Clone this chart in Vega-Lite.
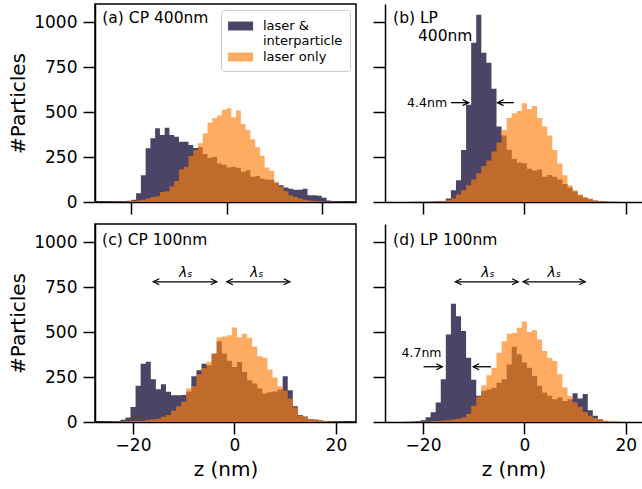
{
"$schema": "https://vega.github.io/schema/vega-lite/v6.json",
"padding": {"left": 7, "top": 3, "right": 0, "bottom": 0},
"background": "white",
"config": {
  "font": "DejaVu Sans",
  "view": {"stroke": "black", "strokeWidth": 1.5},
  "axis": {"domainColor": "black", "domainWidth": 1.5, "tickColor": "black", "tickWidth": 1.5, "tickSize": 12, "labelFont": "DejaVu Sans", "labelFontSize": 17, "labelColor": "black", "titleFont": "DejaVu Sans", "titleFontSize": 20, "titleFontWeight": "normal", "titleColor": "black", "grid": false},
  "axisY": {"labelPadding": 6, "titlePadding": 5, "format": "d"},
  "axisX": {"labelPadding": 3, "titlePadding": 6}
},
"datasets": {
"hist": [
{"p":"a","s":"i","z":-25.5,"n":0},{"p":"a","s":"i","z":-24.5,"n":1},{"p":"a","s":"i","z":-23.5,"n":1},{"p":"a","s":"i","z":-22.5,"n":2},{"p":"a","s":"i","z":-21.5,"n":4},{"p":"a","s":"i","z":-20.5,"n":7},{"p":"a","s":"i","z":-19.5,"n":12},{"p":"a","s":"i","z":-18.5,"n":48},{"p":"a","s":"i","z":-17.5,"n":149},{"p":"a","s":"i","z":-16.5,"n":298},{"p":"a","s":"i","z":-15.5,"n":354},{"p":"a","s":"i","z":-14.5,"n":410},{"p":"a","s":"i","z":-13.5,"n":372},{"p":"a","s":"i","z":-12.5,"n":413},{"p":"a","s":"i","z":-11.5,"n":372},{"p":"a","s":"i","z":-10.5,"n":363},{"p":"a","s":"i","z":-9.5,"n":335},{"p":"a","s":"i","z":-8.5,"n":335},{"p":"a","s":"i","z":-7.5,"n":317},{"p":"a","s":"i","z":-6.5,"n":300},{"p":"a","s":"i","z":-5.5,"n":304},{"p":"a","s":"i","z":-4.5,"n":266},{"p":"a","s":"i","z":-3.5,"n":246},{"p":"a","s":"i","z":-2.5,"n":251},{"p":"a","s":"i","z":-1.5,"n":214},{"p":"a","s":"i","z":-0.5,"n":207},{"p":"a","s":"i","z":0.5,"n":192},{"p":"a","s":"i","z":1.5,"n":196},{"p":"a","s":"i","z":2.5,"n":190},{"p":"a","s":"i","z":3.5,"n":168},{"p":"a","s":"i","z":4.5,"n":177},{"p":"a","s":"i","z":5.5,"n":140},{"p":"a","s":"i","z":6.5,"n":145},{"p":"a","s":"i","z":7.5,"n":130},{"p":"a","s":"i","z":8.5,"n":125},{"p":"a","s":"i","z":9.5,"n":123},{"p":"a","s":"i","z":10.5,"n":106},{"p":"a","s":"i","z":11.5,"n":93},{"p":"a","s":"i","z":12.5,"n":80},{"p":"a","s":"i","z":13.5,"n":74},{"p":"a","s":"i","z":14.5,"n":68},{"p":"a","s":"i","z":15.5,"n":68},{"p":"a","s":"i","z":16.5,"n":74},{"p":"a","s":"i","z":17.5,"n":37},{"p":"a","s":"i","z":18.5,"n":37},{"p":"a","s":"i","z":19.5,"n":35},{"p":"a","s":"i","z":20.5,"n":24},{"p":"a","s":"i","z":21.5,"n":9},{"p":"a","s":"i","z":22.5,"n":6},{"p":"a","s":"i","z":23.5,"n":3},{"p":"a","s":"i","z":24.5,"n":1},{"p":"a","s":"i","z":25.5,"n":0},
{"p":"a","s":"o","z":-24.5,"n":0},{"p":"a","s":"o","z":-23.5,"n":1},{"p":"a","s":"o","z":-22.5,"n":1},{"p":"a","s":"o","z":-21.5,"n":2},{"p":"a","s":"o","z":-20.5,"n":3},{"p":"a","s":"o","z":-19.5,"n":5},{"p":"a","s":"o","z":-18.5,"n":9},{"p":"a","s":"o","z":-17.5,"n":13},{"p":"a","s":"o","z":-16.5,"n":19},{"p":"a","s":"o","z":-15.5,"n":28},{"p":"a","s":"o","z":-14.5,"n":32},{"p":"a","s":"o","z":-13.5,"n":56},{"p":"a","s":"o","z":-12.5,"n":60},{"p":"a","s":"o","z":-11.5,"n":88},{"p":"a","s":"o","z":-10.5,"n":117},{"p":"a","s":"o","z":-9.5,"n":181},{"p":"a","s":"o","z":-8.5,"n":196},{"p":"a","s":"o","z":-7.5,"n":255},{"p":"a","s":"o","z":-6.5,"n":289},{"p":"a","s":"o","z":-5.5,"n":326},{"p":"a","s":"o","z":-4.5,"n":382},{"p":"a","s":"o","z":-3.5,"n":441},{"p":"a","s":"o","z":-2.5,"n":466},{"p":"a","s":"o","z":-1.5,"n":480},{"p":"a","s":"o","z":-0.5,"n":512},{"p":"a","s":"o","z":0.5,"n":521},{"p":"a","s":"o","z":1.5,"n":471},{"p":"a","s":"o","z":2.5,"n":508},{"p":"a","s":"o","z":3.5,"n":434},{"p":"a","s":"o","z":4.5,"n":400},{"p":"a","s":"o","z":5.5,"n":348},{"p":"a","s":"o","z":6.5,"n":304},{"p":"a","s":"o","z":7.5,"n":257},{"p":"a","s":"o","z":8.5,"n":192},{"p":"a","s":"o","z":9.5,"n":173},{"p":"a","s":"o","z":10.5,"n":112},{"p":"a","s":"o","z":11.5,"n":85},{"p":"a","s":"o","z":12.5,"n":60},{"p":"a","s":"o","z":13.5,"n":38},{"p":"a","s":"o","z":14.5,"n":28},{"p":"a","s":"o","z":15.5,"n":20},{"p":"a","s":"o","z":16.5,"n":12},{"p":"a","s":"o","z":17.5,"n":8},{"p":"a","s":"o","z":18.5,"n":5},{"p":"a","s":"o","z":19.5,"n":3},{"p":"a","s":"o","z":20.5,"n":2},{"p":"a","s":"o","z":21.5,"n":1},{"p":"a","s":"o","z":22.5,"n":0},
{"p":"b","s":"i","z":-23,"n":0},{"p":"b","s":"i","z":-22,"n":1},{"p":"b","s":"i","z":-21,"n":1},{"p":"b","s":"i","z":-20,"n":2},{"p":"b","s":"i","z":-19,"n":2},{"p":"b","s":"i","z":-18,"n":3},{"p":"b","s":"i","z":-17,"n":4},{"p":"b","s":"i","z":-16,"n":6},{"p":"b","s":"i","z":-15,"n":19},{"p":"b","s":"i","z":-14,"n":65},{"p":"b","s":"i","z":-13,"n":121},{"p":"b","s":"i","z":-12,"n":289},{"p":"b","s":"i","z":-11,"n":540},{"p":"b","s":"i","z":-10,"n":885},{"p":"b","s":"i","z":-9,"n":1040},{"p":"b","s":"i","z":-8,"n":829},{"p":"b","s":"i","z":-7,"n":773},{"p":"b","s":"i","z":-6,"n":629},{"p":"b","s":"i","z":-5,"n":419},{"p":"b","s":"i","z":-4,"n":370},{"p":"b","s":"i","z":-3,"n":290},{"p":"b","s":"i","z":-2,"n":240},{"p":"b","s":"i","z":-1,"n":220},{"p":"b","s":"i","z":0,"n":215},{"p":"b","s":"i","z":1,"n":185},{"p":"b","s":"i","z":2,"n":175},{"p":"b","s":"i","z":3,"n":180},{"p":"b","s":"i","z":4,"n":140},{"p":"b","s":"i","z":5,"n":150},{"p":"b","s":"i","z":6,"n":140},{"p":"b","s":"i","z":7,"n":125},{"p":"b","s":"i","z":8,"n":100},{"p":"b","s":"i","z":9,"n":80},{"p":"b","s":"i","z":10,"n":58},{"p":"b","s":"i","z":11,"n":38},{"p":"b","s":"i","z":12,"n":24},{"p":"b","s":"i","z":13,"n":15},{"p":"b","s":"i","z":14,"n":9},{"p":"b","s":"i","z":15,"n":5},{"p":"b","s":"i","z":16,"n":3},{"p":"b","s":"i","z":17,"n":2},{"p":"b","s":"i","z":18,"n":1},{"p":"b","s":"i","z":19,"n":0},
{"p":"b","s":"o","z":-21,"n":0},{"p":"b","s":"o","z":-20,"n":1},{"p":"b","s":"o","z":-19,"n":1},{"p":"b","s":"o","z":-18,"n":2},{"p":"b","s":"o","z":-17,"n":2},{"p":"b","s":"o","z":-16,"n":5},{"p":"b","s":"o","z":-15,"n":10},{"p":"b","s":"o","z":-14,"n":20},{"p":"b","s":"o","z":-13,"n":41},{"p":"b","s":"o","z":-12,"n":65},{"p":"b","s":"o","z":-11,"n":93},{"p":"b","s":"o","z":-10,"n":125},{"p":"b","s":"o","z":-9,"n":160},{"p":"b","s":"o","z":-8,"n":200},{"p":"b","s":"o","z":-7,"n":230},{"p":"b","s":"o","z":-6,"n":280},{"p":"b","s":"o","z":-5,"n":330},{"p":"b","s":"o","z":-4,"n":400},{"p":"b","s":"o","z":-3,"n":466},{"p":"b","s":"o","z":-2,"n":493},{"p":"b","s":"o","z":-1,"n":506},{"p":"b","s":"o","z":0,"n":549},{"p":"b","s":"o","z":1,"n":516},{"p":"b","s":"o","z":2,"n":534},{"p":"b","s":"o","z":3,"n":466},{"p":"b","s":"o","z":4,"n":419},{"p":"b","s":"o","z":5,"n":369},{"p":"b","s":"o","z":6,"n":289},{"p":"b","s":"o","z":7,"n":214},{"p":"b","s":"o","z":8,"n":149},{"p":"b","s":"o","z":9,"n":93},{"p":"b","s":"o","z":10,"n":65},{"p":"b","s":"o","z":11,"n":41},{"p":"b","s":"o","z":12,"n":28},{"p":"b","s":"o","z":13,"n":19},{"p":"b","s":"o","z":14,"n":9},{"p":"b","s":"o","z":15,"n":4},{"p":"b","s":"o","z":16,"n":2},{"p":"b","s":"o","z":17,"n":1},{"p":"b","s":"o","z":18,"n":0},
{"p":"c","s":"i","z":-25,"n":0},{"p":"c","s":"i","z":-24,"n":2},{"p":"c","s":"i","z":-23,"n":6},{"p":"c","s":"i","z":-22,"n":13},{"p":"c","s":"i","z":-21,"n":25},{"p":"c","s":"i","z":-20,"n":84},{"p":"c","s":"i","z":-19,"n":201},{"p":"c","s":"i","z":-18,"n":324},{"p":"c","s":"i","z":-17,"n":335},{"p":"c","s":"i","z":-16,"n":237},{"p":"c","s":"i","z":-15,"n":182},{"p":"c","s":"i","z":-14,"n":210},{"p":"c","s":"i","z":-13,"n":168},{"p":"c","s":"i","z":-12,"n":149},{"p":"c","s":"i","z":-11,"n":149},{"p":"c","s":"i","z":-10,"n":150},{"p":"c","s":"i","z":-9,"n":170},{"p":"c","s":"i","z":-8,"n":254},{"p":"c","s":"i","z":-7,"n":287},{"p":"c","s":"i","z":-6,"n":324},{"p":"c","s":"i","z":-5,"n":315},{"p":"c","s":"i","z":-4,"n":379},{"p":"c","s":"i","z":-3,"n":449},{"p":"c","s":"i","z":-2,"n":380},{"p":"c","s":"i","z":-1,"n":340},{"p":"c","s":"i","z":0,"n":306},{"p":"c","s":"i","z":1,"n":333},{"p":"c","s":"i","z":2,"n":278},{"p":"c","s":"i","z":3,"n":232},{"p":"c","s":"i","z":4,"n":214},{"p":"c","s":"i","z":5,"n":186},{"p":"c","s":"i","z":6,"n":158},{"p":"c","s":"i","z":7,"n":165},{"p":"c","s":"i","z":8,"n":170},{"p":"c","s":"i","z":9,"n":180},{"p":"c","s":"i","z":10,"n":254},{"p":"c","s":"i","z":11,"n":177},{"p":"c","s":"i","z":12,"n":88},{"p":"c","s":"i","z":13,"n":39},{"p":"c","s":"i","z":14,"n":30},{"p":"c","s":"i","z":15,"n":17},{"p":"c","s":"i","z":16,"n":14},{"p":"c","s":"i","z":17,"n":10},{"p":"c","s":"i","z":18,"n":6},{"p":"c","s":"i","z":19,"n":4},{"p":"c","s":"i","z":20,"n":2},{"p":"c","s":"i","z":21,"n":1},{"p":"c","s":"i","z":22,"n":0},
{"p":"c","s":"o","z":-25,"n":0},{"p":"c","s":"o","z":-24,"n":1},{"p":"c","s":"o","z":-23,"n":2},{"p":"c","s":"o","z":-22,"n":3},{"p":"c","s":"o","z":-21,"n":4},{"p":"c","s":"o","z":-20,"n":5},{"p":"c","s":"o","z":-19,"n":6},{"p":"c","s":"o","z":-18,"n":7},{"p":"c","s":"o","z":-17,"n":11},{"p":"c","s":"o","z":-16,"n":15},{"p":"c","s":"o","z":-15,"n":18},{"p":"c","s":"o","z":-14,"n":29},{"p":"c","s":"o","z":-13,"n":39},{"p":"c","s":"o","z":-12,"n":63},{"p":"c","s":"o","z":-11,"n":88},{"p":"c","s":"o","z":-10,"n":112},{"p":"c","s":"o","z":-9,"n":186},{"p":"c","s":"o","z":-8,"n":200},{"p":"c","s":"o","z":-7,"n":265},{"p":"c","s":"o","z":-6,"n":300},{"p":"c","s":"o","z":-5,"n":335},{"p":"c","s":"o","z":-4,"n":380},{"p":"c","s":"o","z":-3,"n":470},{"p":"c","s":"o","z":-2,"n":475},{"p":"c","s":"o","z":-1,"n":482},{"p":"c","s":"o","z":0,"n":525},{"p":"c","s":"o","z":1,"n":471},{"p":"c","s":"o","z":2,"n":490},{"p":"c","s":"o","z":3,"n":468},{"p":"c","s":"o","z":4,"n":420},{"p":"c","s":"o","z":5,"n":365},{"p":"c","s":"o","z":6,"n":357},{"p":"c","s":"o","z":7,"n":291},{"p":"c","s":"o","z":8,"n":247},{"p":"c","s":"o","z":9,"n":199},{"p":"c","s":"o","z":10,"n":175},{"p":"c","s":"o","z":11,"n":130},{"p":"c","s":"o","z":12,"n":80},{"p":"c","s":"o","z":13,"n":36},{"p":"c","s":"o","z":14,"n":28},{"p":"c","s":"o","z":15,"n":16},{"p":"c","s":"o","z":16,"n":12},{"p":"c","s":"o","z":17,"n":8},{"p":"c","s":"o","z":18,"n":5},{"p":"c","s":"o","z":19,"n":3},{"p":"c","s":"o","z":20,"n":2},{"p":"c","s":"o","z":21,"n":1},{"p":"c","s":"o","z":22,"n":0},
{"p":"d","s":"i","z":-24,"n":0},{"p":"d","s":"i","z":-23,"n":2},{"p":"d","s":"i","z":-22,"n":3},{"p":"d","s":"i","z":-21,"n":5},{"p":"d","s":"i","z":-20,"n":10},{"p":"d","s":"i","z":-19,"n":26},{"p":"d","s":"i","z":-18,"n":54},{"p":"d","s":"i","z":-17,"n":109},{"p":"d","s":"i","z":-16,"n":238},{"p":"d","s":"i","z":-15,"n":486},{"p":"d","s":"i","z":-14,"n":657},{"p":"d","s":"i","z":-13,"n":588},{"p":"d","s":"i","z":-12,"n":505},{"p":"d","s":"i","z":-11,"n":357},{"p":"d","s":"i","z":-10,"n":235},{"p":"d","s":"i","z":-9,"n":146},{"p":"d","s":"i","z":-8,"n":173},{"p":"d","s":"i","z":-7,"n":180},{"p":"d","s":"i","z":-6,"n":190},{"p":"d","s":"i","z":-5,"n":218},{"p":"d","s":"i","z":-4,"n":237},{"p":"d","s":"i","z":-3,"n":320},{"p":"d","s":"i","z":-2,"n":418},{"p":"d","s":"i","z":-1,"n":376},{"p":"d","s":"i","z":0,"n":330},{"p":"d","s":"i","z":1,"n":302},{"p":"d","s":"i","z":2,"n":256},{"p":"d","s":"i","z":3,"n":201},{"p":"d","s":"i","z":4,"n":164},{"p":"d","s":"i","z":5,"n":146},{"p":"d","s":"i","z":6,"n":127},{"p":"d","s":"i","z":7,"n":136},{"p":"d","s":"i","z":8,"n":117},{"p":"d","s":"i","z":9,"n":127},{"p":"d","s":"i","z":10,"n":160},{"p":"d","s":"i","z":11,"n":130},{"p":"d","s":"i","z":12,"n":155},{"p":"d","s":"i","z":13,"n":65},{"p":"d","s":"i","z":14,"n":35},{"p":"d","s":"i","z":15,"n":15},{"p":"d","s":"i","z":16,"n":6},{"p":"d","s":"i","z":17,"n":3},{"p":"d","s":"i","z":18,"n":1},{"p":"d","s":"i","z":19,"n":0},
{"p":"d","s":"o","z":-23,"n":0},{"p":"d","s":"o","z":-22,"n":1},{"p":"d","s":"o","z":-21,"n":2},{"p":"d","s":"o","z":-20,"n":2},{"p":"d","s":"o","z":-19,"n":3},{"p":"d","s":"o","z":-18,"n":4},{"p":"d","s":"o","z":-17,"n":6},{"p":"d","s":"o","z":-16,"n":8},{"p":"d","s":"o","z":-15,"n":10},{"p":"d","s":"o","z":-14,"n":14},{"p":"d","s":"o","z":-13,"n":18},{"p":"d","s":"o","z":-12,"n":25},{"p":"d","s":"o","z":-11,"n":45},{"p":"d","s":"o","z":-10,"n":90},{"p":"d","s":"o","z":-9,"n":140},{"p":"d","s":"o","z":-8,"n":204},{"p":"d","s":"o","z":-7,"n":260},{"p":"d","s":"o","z":-6,"n":302},{"p":"d","s":"o","z":-5,"n":385},{"p":"d","s":"o","z":-4,"n":449},{"p":"d","s":"o","z":-3,"n":490},{"p":"d","s":"o","z":-2,"n":495},{"p":"d","s":"o","z":-1,"n":523},{"p":"d","s":"o","z":0,"n":558},{"p":"d","s":"o","z":1,"n":500},{"p":"d","s":"o","z":2,"n":510},{"p":"d","s":"o","z":3,"n":459},{"p":"d","s":"o","z":4,"n":394},{"p":"d","s":"o","z":5,"n":357},{"p":"d","s":"o","z":6,"n":339},{"p":"d","s":"o","z":7,"n":265},{"p":"d","s":"o","z":8,"n":191},{"p":"d","s":"o","z":9,"n":145},{"p":"d","s":"o","z":10,"n":110},{"p":"d","s":"o","z":11,"n":85},{"p":"d","s":"o","z":12,"n":55},{"p":"d","s":"o","z":13,"n":35},{"p":"d","s":"o","z":14,"n":22},{"p":"d","s":"o","z":15,"n":14},{"p":"d","s":"o","z":16,"n":9},{"p":"d","s":"o","z":17,"n":5},{"p":"d","s":"o","z":18,"n":3},{"p":"d","s":"o","z":19,"n":2},{"p":"d","s":"o","z":20,"n":1},{"p":"d","s":"o","z":21,"n":0}
],
"lab": [
{"p":"a","x":-26.1,"y":1024,"t":"(a) CP 400nm"},
{"p":"b","x":-25.9,"y":1024,"t":"(b) LP"},
{"p":"b","x":-21.0,"y":922,"t":"400nm"},
{"p":"c","x":-26.1,"y":1011,"t":"(c) CP 100nm"},
{"p":"d","x":-25.9,"y":1011,"t":"(d) LP 100nm"}
],
"note": [
{"p":"b","x":-19.2,"y":552,"t":"4.4nm"},
{"p":"d","x":-20.3,"y":386,"t":"4.7nm"}
],
"lam": [
{"p":"c","x":-9.6,"y":829,"t":"λₛ"},
{"p":"c","x":4.4,"y":829,"t":"λₛ"},
{"p":"d","x":-7.2,"y":829,"t":"λₛ"},
{"p":"d","x":5.9,"y":829,"t":"λₛ"}
],
"arr": [
{"p":"b","x1":-14.5,"x2":-11.0,"y":552},
{"p":"b","x1":-5.3,"x2":-2.1,"y":552},
{"p":"d","x1":-19.9,"x2":-16.2,"y":307},
{"p":"d","x1":-10.1,"x2":-6.6,"y":307},
{"p":"c","x1":-16.0,"x2":-3.5,"y":779},
{"p":"c","x1":-1.5,"x2":10.9,"y":779},
{"p":"d","x1":-13.6,"x2":-1.25,"y":779},
{"p":"d","x1":-0.25,"x2":12.0,"y":779}
],
"head": [
{"p":"b","x":-11.0,"y":552,"d":"r"},
{"p":"b","x":-5.3,"y":552,"d":"l"},
{"p":"d","x":-16.2,"y":307,"d":"r"},
{"p":"d","x":-10.1,"y":307,"d":"l"},
{"p":"c","x":-16.0,"y":779,"d":"l"},
{"p":"c","x":-3.5,"y":779,"d":"r"},
{"p":"c","x":-1.5,"y":779,"d":"l"},
{"p":"c","x":10.9,"y":779,"d":"r"},
{"p":"d","x":-13.6,"y":779,"d":"l"},
{"p":"d","x":-1.25,"y":779,"d":"r"},
{"p":"d","x":-0.25,"y":779,"d":"l"},
{"p":"d","x":12.0,"y":779,"d":"r"}
]
},
"vconcat": [
{"hconcat": [
 {"width": 261, "height": 198,
  "layer": [
   {"data": {"name": "hist"}, "transform": [{"filter": "datum.p == 'a'"}],
    "mark": {"type": "area", "interpolate": "step"},
    "encoding": {
     "x": {"field": "z", "type": "quantitative", "scale": {"domain": [-27.63, 27.18], "nice": false, "zero": false}, "axis": {"values": [-20, 0, 20], "labels": false, "title": null}},
     "y": {"field": "n", "type": "quantitative", "stack": null, "scale": {"domain": [0, 1100], "nice": false}, "axis": {"values": [0, 250, 500, 750, 1000], "title": "#Particles"}},
     "color": {"field": "s", "type": "nominal", "scale": {"domain": ["i", "o"], "range": ["#4b4466", "#ff7f0e"]},
       "legend": {"title": null, "orient": "top-right", "offset": 6, "padding": 7, "fillColor": "white", "strokeColor": "#cccccc", "cornerRadius": 3, "symbolType": "M-1,-0.5H1.8V0.5H-1Z", "symbolSize": 320, "symbolStrokeWidth": 0, "labelFontSize": 13, "labelFont": "DejaVu Sans", "labelColor": "black", "labelOffset": 17, "rowPadding": -4, "labelExpr": "datum.value == 'i' ? ['laser &', 'interparticle'] : 'laser only'"}},
     "opacity": {"field": "s", "type": "nominal", "scale": {"domain": ["i", "o"], "range": [1, 0.65]},
       "legend": {"title": null, "orient": "top-right", "offset": 6, "padding": 7, "fillColor": "white", "strokeColor": "#cccccc", "cornerRadius": 3, "symbolType": "M-1,-0.5H1.8V0.5H-1Z", "symbolSize": 320, "symbolStrokeWidth": 0, "labelFontSize": 13, "labelFont": "DejaVu Sans", "labelColor": "black", "labelOffset": 17, "rowPadding": -4, "labelExpr": "datum.value == 'i' ? ['laser &', 'interparticle'] : 'laser only'"}}
    }},
   {"data": {"name": "lab"}, "transform": [{"filter": "datum.p == 'a'"}],
    "mark": {"type": "text", "align": "left", "baseline": "middle", "fontSize": 15.5, "color": "black"},
    "encoding": {"x": {"field": "x", "type": "quantitative"}, "y": {"field": "y", "type": "quantitative"}, "text": {"field": "t"}}}
  ]},
 {"width": 257, "height": 198, "view": {"stroke": null},
  "layer": [
   {"data": {"name": "hist"}, "transform": [{"filter": "datum.p == 'b'"}],
    "mark": {"type": "area", "interpolate": "step"},
    "encoding": {
     "x": {"field": "z", "type": "quantitative", "scale": {"domain": [-27.5, 23.2], "nice": false, "zero": false}, "axis": {"values": [-20, 0, 20], "labels": false, "title": null}},
     "y": {"field": "n", "type": "quantitative", "stack": null, "scale": {"domain": [0, 1100], "nice": false}, "axis": {"values": [0, 250, 500, 750, 1000], "labels": false, "title": null}},
     "color": {"field": "s", "type": "nominal", "scale": {"domain": ["i", "o"], "range": ["#4b4466", "#ff7f0e"]}, "legend": null},
     "opacity": {"field": "s", "type": "nominal", "scale": {"domain": ["i", "o"], "range": [1, 0.65]}, "legend": null}
    }},
   {"mark": {"type": "rule", "color": "black", "strokeWidth": 1.5}, "encoding": {"y": {"datum": 1100}}},
   {"data": {"name": "lab"}, "transform": [{"filter": "datum.p == 'b'"}],
    "mark": {"type": "text", "align": "left", "baseline": "middle", "fontSize": 15.5, "color": "black"},
    "encoding": {"x": {"field": "x", "type": "quantitative"}, "y": {"field": "y", "type": "quantitative"}, "text": {"field": "t"}}},
   {"data": {"name": "note"}, "transform": [{"filter": "datum.p == 'b'"}],
    "mark": {"type": "text", "align": "center", "baseline": "middle", "fontSize": 12.5, "color": "black"},
    "encoding": {"x": {"field": "x", "type": "quantitative"}, "y": {"field": "y", "type": "quantitative"}, "text": {"field": "t"}}},
   {"data": {"name": "arr"}, "transform": [{"filter": "datum.p == 'b'"}],
    "mark": {"type": "rule", "color": "black", "strokeWidth": 1.3},
    "encoding": {"x": {"field": "x1", "type": "quantitative"}, "x2": {"field": "x2"}, "y": {"field": "y", "type": "quantitative"}}},
   {"data": {"name": "head"}, "transform": [{"filter": "datum.p == 'b'"}],
    "mark": {"type": "point", "filled": false, "color": "black", "strokeWidth": 1.3, "size": 36, "opacity": 1},
    "encoding": {"x": {"field": "x", "type": "quantitative"}, "y": {"field": "y", "type": "quantitative"},
     "shape": {"field": "d", "type": "nominal", "scale": {"domain": ["r", "l"], "range": ["M-2,-1L0,0L-2,1", "M2,-1L0,0L2,1"]}, "legend": null}}}
  ]}
], "spacing": 15, "resolve": {"scale": {"color": "independent", "opacity": "independent"}, "legend": {"color": "independent", "opacity": "independent"}}},
{"hconcat": [
 {"width": 261, "height": 198,
  "layer": [
   {"data": {"name": "hist"}, "transform": [{"filter": "datum.p == 'c'"}],
    "mark": {"type": "area", "interpolate": "step"},
    "encoding": {
     "x": {"field": "z", "type": "quantitative", "scale": {"domain": [-27.5, 23.96], "nice": false, "zero": false}, "axis": {"values": [-20, 0, 20], "title": "z (nm)"}},
     "y": {"field": "n", "type": "quantitative", "stack": null, "scale": {"domain": [0, 1100], "nice": false}, "axis": {"values": [0, 250, 500, 750, 1000], "title": "#Particles"}},
     "color": {"field": "s", "type": "nominal", "scale": {"domain": ["i", "o"], "range": ["#4b4466", "#ff7f0e"]}, "legend": null},
     "opacity": {"field": "s", "type": "nominal", "scale": {"domain": ["i", "o"], "range": [1, 0.65]}, "legend": null}
    }},
   {"data": {"name": "lab"}, "transform": [{"filter": "datum.p == 'c'"}],
    "mark": {"type": "text", "align": "left", "baseline": "middle", "fontSize": 15.5, "color": "black"},
    "encoding": {"x": {"field": "x", "type": "quantitative"}, "y": {"field": "y", "type": "quantitative"}, "text": {"field": "t"}}},
   {"data": {"name": "lam"}, "transform": [{"filter": "datum.p == 'c'"}],
    "mark": {"type": "text", "align": "center", "baseline": "middle", "fontSize": 14, "fontStyle": "italic", "color": "black"},
    "encoding": {"x": {"field": "x", "type": "quantitative"}, "y": {"field": "y", "type": "quantitative"}, "text": {"field": "t"}}},
   {"data": {"name": "arr"}, "transform": [{"filter": "datum.p == 'c'"}],
    "mark": {"type": "rule", "color": "black", "strokeWidth": 1.3},
    "encoding": {"x": {"field": "x1", "type": "quantitative"}, "x2": {"field": "x2"}, "y": {"field": "y", "type": "quantitative"}}},
   {"data": {"name": "head"}, "transform": [{"filter": "datum.p == 'c'"}],
    "mark": {"type": "point", "filled": false, "color": "black", "strokeWidth": 1.3, "size": 36, "opacity": 1},
    "encoding": {"x": {"field": "x", "type": "quantitative"}, "y": {"field": "y", "type": "quantitative"},
     "shape": {"field": "d", "type": "nominal", "scale": {"domain": ["r", "l"], "range": ["M-2,-1L0,0L-2,1", "M2,-1L0,0L2,1"]}, "legend": null}}}
  ]},
 {"width": 257, "height": 198, "view": {"stroke": null},
  "layer": [
   {"data": {"name": "hist"}, "transform": [{"filter": "datum.p == 'd'"}],
    "mark": {"type": "area", "interpolate": "step"},
    "encoding": {
     "x": {"field": "z", "type": "quantitative", "scale": {"domain": [-27.5, 23.2], "nice": false, "zero": false}, "axis": {"values": [-20, 0, 20], "title": "z (nm)"}},
     "y": {"field": "n", "type": "quantitative", "stack": null, "scale": {"domain": [0, 1100], "nice": false}, "axis": {"values": [0, 250, 500, 750, 1000], "labels": false, "title": null}},
     "color": {"field": "s", "type": "nominal", "scale": {"domain": ["i", "o"], "range": ["#4b4466", "#ff7f0e"]}, "legend": null},
     "opacity": {"field": "s", "type": "nominal", "scale": {"domain": ["i", "o"], "range": [1, 0.65]}, "legend": null}
    }},
   {"mark": {"type": "rule", "color": "black", "strokeWidth": 1.5}, "encoding": {"y": {"datum": 1100}}},
   {"data": {"name": "lab"}, "transform": [{"filter": "datum.p == 'd'"}],
    "mark": {"type": "text", "align": "left", "baseline": "middle", "fontSize": 15.5, "color": "black"},
    "encoding": {"x": {"field": "x", "type": "quantitative"}, "y": {"field": "y", "type": "quantitative"}, "text": {"field": "t"}}},
   {"data": {"name": "note"}, "transform": [{"filter": "datum.p == 'd'"}],
    "mark": {"type": "text", "align": "center", "baseline": "middle", "fontSize": 12.5, "color": "black"},
    "encoding": {"x": {"field": "x", "type": "quantitative"}, "y": {"field": "y", "type": "quantitative"}, "text": {"field": "t"}}},
   {"data": {"name": "lam"}, "transform": [{"filter": "datum.p == 'd'"}],
    "mark": {"type": "text", "align": "center", "baseline": "middle", "fontSize": 14, "fontStyle": "italic", "color": "black"},
    "encoding": {"x": {"field": "x", "type": "quantitative"}, "y": {"field": "y", "type": "quantitative"}, "text": {"field": "t"}}},
   {"data": {"name": "arr"}, "transform": [{"filter": "datum.p == 'd'"}],
    "mark": {"type": "rule", "color": "black", "strokeWidth": 1.3},
    "encoding": {"x": {"field": "x1", "type": "quantitative"}, "x2": {"field": "x2"}, "y": {"field": "y", "type": "quantitative"}}},
   {"data": {"name": "head"}, "transform": [{"filter": "datum.p == 'd'"}],
    "mark": {"type": "point", "filled": false, "color": "black", "strokeWidth": 1.3, "size": 36, "opacity": 1},
    "encoding": {"x": {"field": "x", "type": "quantitative"}, "y": {"field": "y", "type": "quantitative"},
     "shape": {"field": "d", "type": "nominal", "scale": {"domain": ["r", "l"], "range": ["M-2,-1L0,0L-2,1", "M2,-1L0,0L2,1"]}, "legend": null}}}
  ]}
], "spacing": 15, "resolve": {"scale": {"color": "independent", "opacity": "independent"}, "legend": {"color": "independent", "opacity": "independent"}}}
],
"spacing": 7,
"resolve": {"scale": {"color": "independent", "opacity": "independent"}, "legend": {"color": "independent", "opacity": "independent"}}
}
